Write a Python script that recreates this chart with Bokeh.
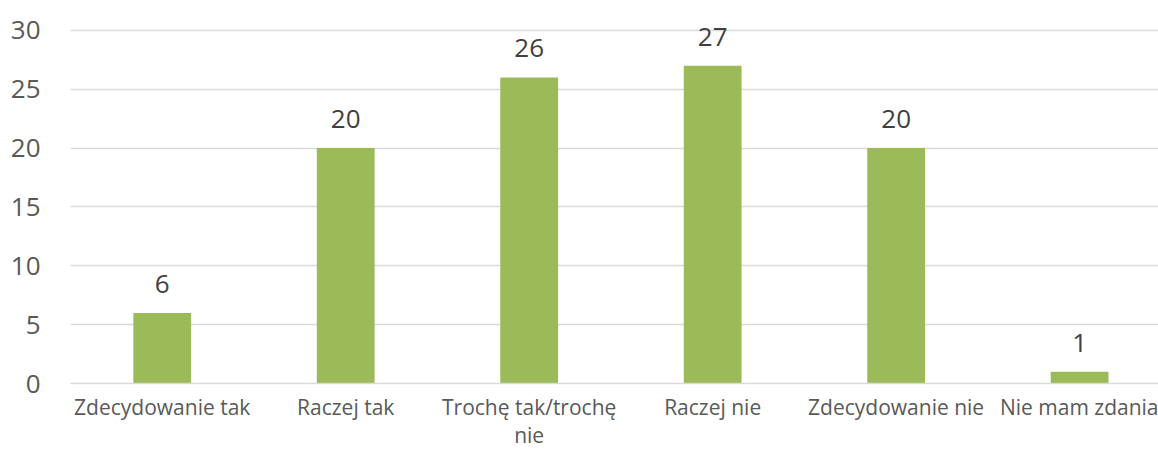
from bokeh.plotting import figure
from bokeh.models import Range1d, FixedTicker, ColumnDataSource
from bokeh.core.properties import value
from bokeh.embed import file_html
from bokeh.resources import INLINE

categories = ["Zdecydowanie tak", "Raczej tak", "Trochę tak/trochę\nnie",
              "Raczej nie", "Zdecydowanie nie", "Nie mam zdania"]
counts = [6, 20, 26, 27, 20, 1]
y_ticks = [0, 5, 10, 15, 20, 25, 30]

xs = list(range(len(categories)))
src = ColumnDataSource(dict(x=xs, y=counts, lbl=[str(v) for v in counts]))

p = figure(width=1158, height=451, output_backend="svg", toolbar_location=None,
           x_range=Range1d(-0.5, 5.43), y_range=Range1d(0, 32.54),
           min_border_left=70, min_border_right=0, min_border_top=0, min_border_bottom=67)
p.outline_line_color = None
p.background_fill_color = "white"
p.border_fill_color = "white"

p.vbar(x="x", top="y", width=0.315, source=src, color="#9BBB59", line_color=None)
p.text(x="x", y="y", text="lbl", source=src, text_align="center", text_baseline="alphabetic",
       y_offset=-29, text_font=value("Open Sans"), text_font_size="26px", text_color="#404040")

p.xgrid.grid_line_color = None
p.ygrid.grid_line_color = "#D9D9D9"
p.ygrid.grid_line_width = 1.5
p.yaxis.ticker = FixedTicker(ticks=y_ticks)
p.xaxis.ticker = FixedTicker(ticks=xs)
p.xaxis.major_label_overrides = {i: c for i, c in enumerate(categories)}

p.yaxis.axis_line_color = None
p.yaxis.major_tick_line_color = None
p.yaxis.minor_tick_line_color = None
p.yaxis.major_tick_out = 0
p.yaxis.major_tick_in = 0
p.yaxis.major_label_text_font = "Open Sans"
p.yaxis.major_label_text_font_size = "26px"
p.yaxis.major_label_text_color = "#595959"
p.yaxis.major_label_standoff = 30

p.xaxis.axis_line_color = "#D9D9D9"
p.xaxis.axis_line_width = 1.5
p.xaxis.major_tick_line_color = None
p.xaxis.minor_tick_line_color = None
p.xaxis.major_tick_out = 0
p.xaxis.major_tick_in = 0
p.xaxis.minor_tick_out = 0
p.xaxis.major_label_text_font = "Open Sans"
p.xaxis.major_label_text_font_size = "21px"
p.xaxis.major_label_text_line_height = 1.0
p.xaxis.major_label_text_color = "#595959"
p.xaxis.major_label_standoff = 9

open("out.html", "w").write(file_html(p, INLINE))
